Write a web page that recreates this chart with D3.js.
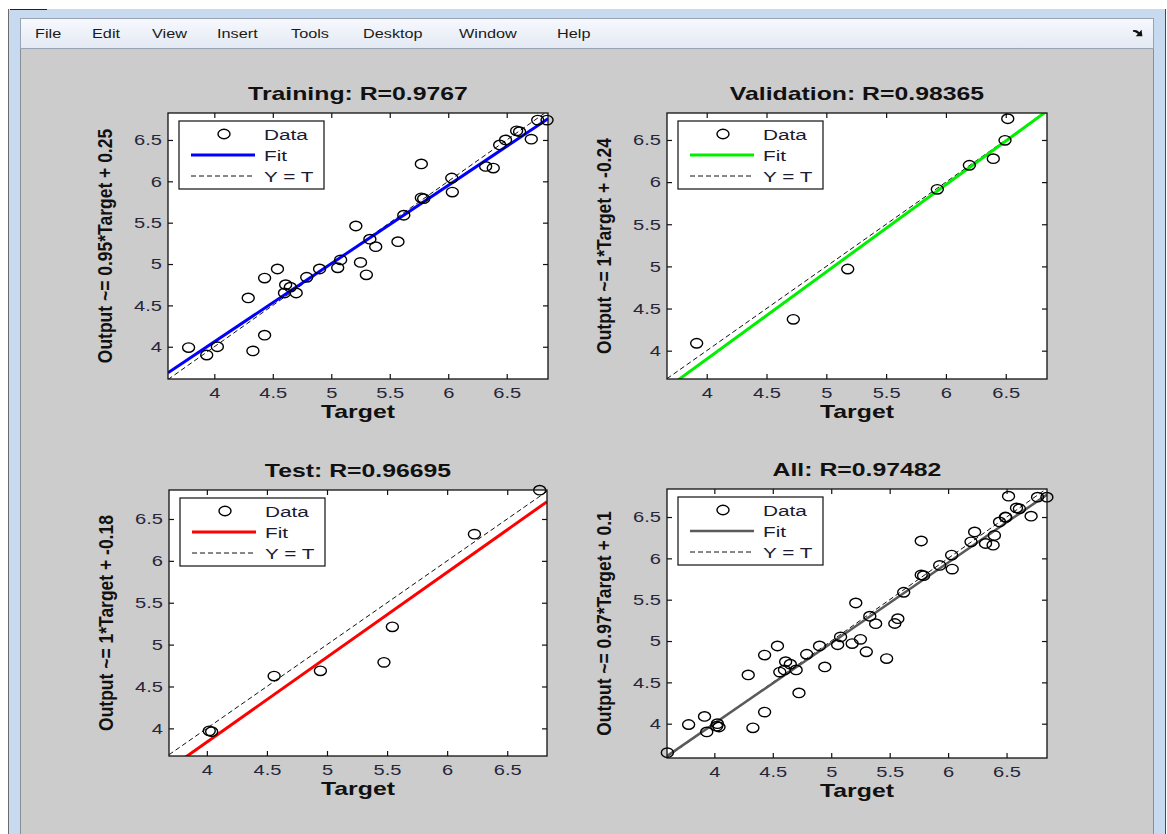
<!DOCTYPE html>
<html>
<head>
<meta charset="utf-8">
<script src="https://cdn.jsdelivr.net/npm/d3@7/dist/d3.min.js"></script>
<style>
html, body { margin: 0; padding: 0; background: #fff; }
svg { display: block; font-family: "Liberation Sans", Arial, sans-serif; }
</style>
</head>
<body>
<svg id="fig" width="1167" height="834"></svg>
<script>
// ---- data ----
const trainTarget = [3.598, 3.78, 3.935, 4.026, 4.33, 4.29, 4.43, 4.43, 4.54, 4.61, 4.60, 4.65, 4.70, 4.79, 4.90, 5.055, 5.08, 5.21, 5.25, 5.30, 5.33, 5.38, 5.57, 5.62, 5.77, 5.77, 5.79, 6.03, 6.035, 6.32, 6.385, 6.44, 6.49, 6.585, 6.61, 6.71, 6.765, 6.845];
const trainOutput = [3.65, 3.99, 3.90, 4.00, 3.95, 4.59, 4.14, 4.83, 4.94, 4.75, 4.65, 4.72, 4.65, 4.84, 4.94, 4.955, 5.05, 5.46, 5.02, 4.87, 5.30, 5.21, 5.27, 5.59, 6.21, 5.80, 5.79, 6.04, 5.87, 6.18, 6.16, 6.44, 6.50, 6.61, 6.60, 6.51, 6.74, 6.74];
const valTarget = [3.916, 4.724, 5.179, 5.928, 6.196, 6.396, 6.494, 6.517];
const valOutput = [4.088, 4.372, 4.969, 5.915, 6.20, 6.278, 6.496, 6.752];
const testTarget = [4.02, 4.04, 4.56, 4.945, 5.474, 5.544, 6.227, 6.77];
const testOutput = [3.97, 3.96, 4.624, 4.687, 4.788, 5.212, 6.319, 6.844];
const allTarget = trainTarget.concat(valTarget, testTarget);
const allOutput = trainOutput.concat(valOutput, testOutput);

const panelTitles = ["Training: R=0.9767", "Validation: R=0.98365", "Test: R=0.96695", "All: R=0.97482"];
const fitLabels = ["Output ~= 0.95*Target + 0.25", "Output ~= 1*Target + -0.24", "Output ~= 1*Target + -0.18", "Output ~= 0.97*Target + 0.1"];
const fitSlope = [0.945, 1.035, 1.014, 0.973];
const fitIntercept = [0.28, -0.24, -0.22, 0.11];
const xLimits = [[3.604, 6.853], [3.668, 6.845], [3.685, 6.831], [3.595, 6.846]];
const yLimits = [[3.61, 6.826], [3.664, 6.82], [3.67, 6.846], [3.585, 6.839]];
const tickValues = [4, 4.5, 5, 5.5, 6, 6.5];
const tickLabels = ["4", "4.5", "5", "5.5", "6", "6.5"];
const legendLabels = ["Data", "Fit", "Y = T"];
const xLabel = "Target";
const menuItems = ["File", "Edit", "View", "Insert", "Tools", "Desktop", "Window", "Help"];

const series = [
    {t: trainTarget, y: trainOutput},
    {t: valTarget, y: valOutput},
    {t: testTarget, y: testOutput},
    {t: allTarget, y: allOutput},
];

// ---- layout / style ----
const fitColors = ["#0000ff", "#00f000", "#ff0000", "#5a5a5a"];
const fitWidths = [3, 3, 3, 2.5];
const boxes = [
    {x: 168, y: 113, w: 380, h: 266},
    {x: 667, y: 113, w: 380, h: 266},
    {x: 169, y: 490, w: 378, h: 266},
    {x: 667, y: 489, w: 380, h: 269},
];
const SX = 1.34; // screenshot is stretched horizontally
const menuX = [35, 92, 152, 217, 291, 363, 459, 557];

function stretch(sel, k = SX) {
    sel.each(function () {
        const l = this.getComputedTextLength();
        this.setAttribute("textLength", l * k);
        this.setAttribute("lengthAdjust", "spacingAndGlyphs");
    });
}

const svg = d3.select("#fig");
const defs = svg.append("defs");

// window frame + menu bar
const grad = defs.append("linearGradient").attr("id", "menuGrad")
    .attr("x1", 0).attr("y1", 0).attr("x2", 0).attr("y2", 1);
grad.append("stop").attr("offset", 0).attr("stop-color", "#f7f9fd");
grad.append("stop").attr("offset", 1).attr("stop-color", "#e3e9f3");

svg.append("rect").attr("x", 8).attr("y", 9).attr("width", 1158).attr("height", 825)
    .attr("fill", "#c7daf0");
svg.append("line").attr("x1", 8.5).attr("x2", 8.5).attr("y1", 9).attr("y2", 834)
    .attr("stroke", "#6b6b6b");
svg.append("line").attr("x1", 1165.5).attr("x2", 1165.5).attr("y1", 9).attr("y2", 834)
    .attr("stroke", "#4a4a4a");
svg.append("line").attr("x1", 10).attr("x2", 47).attr("y1", 9.5).attr("y2", 9.5)
    .attr("stroke", "#222");
svg.append("rect").attr("x", 20.5).attr("y", 18.5).attr("width", 1133).attr("height", 30)
    .attr("fill", "url(#menuGrad)").attr("stroke", "#98a3b3");
svg.append("rect").attr("x", 21).attr("y", 49).attr("width", 1132).attr("height", 785)
    .attr("fill", "#cccccc");
svg.append("line").attr("x1", 20.5).attr("x2", 20.5).attr("y1", 49).attr("y2", 834)
    .attr("stroke", "#8a8f96");
svg.append("line").attr("x1", 1153.5).attr("x2", 1153.5).attr("y1", 49).attr("y2", 834)
    .attr("stroke", "#8a8f96");

svg.append("g").selectAll("text").data(menuItems).join("text")
    .attr("x", (d, i) => menuX[i]).attr("y", 38)
    .attr("font-size", 12.5).attr("fill", "#1a1a1a")
    .text(d => d)
    .call(stretch, 1.3);
svg.append("path")
    .attr("d", "M1133,31 Q1138,30 1140,35 M1137.5,35.5 L1141.5,35.5 L1141,31.5 Z")
    .attr("fill", "#111").attr("stroke", "#111").attr("stroke-width", 1.6);

// panels
series.forEach((s, i) => {
    const b = boxes[i];
    const x = d3.scaleLinear().domain(xLimits[i]).range([b.x, b.x + b.w]);
    const y = d3.scaleLinear().domain(yLimits[i]).range([b.y + b.h, b.y]);
    const g = svg.append("g");

    g.append("rect").attr("x", b.x).attr("y", b.y).attr("width", b.w).attr("height", b.h)
        .attr("fill", "#fff");

    const clipId = "clip" + i;
    defs.append("clipPath").attr("id", clipId).append("rect")
        .attr("x", b.x).attr("y", b.y).attr("width", b.w).attr("height", b.h);

    // axes: ticks on all four sides, pointing inward
    const fmt = d => tickLabels[tickValues.indexOf(d)];
    const axes = [
        [d3.axisBottom(x).tickPadding(8), `translate(0,${b.y + b.h})`, true],
        [d3.axisLeft(y).tickPadding(6), `translate(${b.x},0)`, true],
        [d3.axisTop(x), `translate(0,${b.y})`, false],
        [d3.axisRight(y), `translate(${b.x + b.w},0)`, false],
    ];
    for (const [ax, tr, labels] of axes) {
        ax.tickValues(tickValues).tickSizeInner(-5).tickSizeOuter(0)
            .tickFormat(labels ? fmt : () => "");
        const a = g.append("g").attr("transform", tr).call(ax);
        a.select(".domain").remove();
        a.selectAll(".tick line").attr("stroke", "#111").attr("stroke-width", 1.2);
        a.selectAll(".tick text").attr("font-size", 15).attr("fill", "#26263a")
            .attr("font-family", "Liberation Sans, Arial, sans-serif");
        if (labels) a.selectAll(".tick text").call(stretch);
    }

    // Y = T and fit lines
    const xd = xLimits[i];
    const lc = g.append("g").attr("clip-path", `url(#${clipId})`);
    lc.append("line")
        .attr("x1", x(xd[0])).attr("y1", y(xd[0]))
        .attr("x2", x(xd[1])).attr("y2", y(xd[1]))
        .attr("stroke", "#111").attr("stroke-width", 1).attr("stroke-dasharray", "5,3");
    lc.append("line")
        .attr("x1", x(xd[0])).attr("y1", y(fitSlope[i] * xd[0] + fitIntercept[i]))
        .attr("x2", x(xd[1])).attr("y2", y(fitSlope[i] * xd[1] + fitIntercept[i]))
        .attr("stroke", fitColors[i]).attr("stroke-width", fitWidths[i]);

    // data circles (like MATLAB, a marker whose centre is outside the limits is not drawn)
    const pts = s.t.map((t, k) => [t, s.y[k]])
        .filter(d => d[0] >= xLimits[i][0] && d[0] <= xLimits[i][1]
            && d[1] >= yLimits[i][0] && d[1] <= yLimits[i][1]);
    g.append("g").selectAll("ellipse").data(pts).join("ellipse")
        .attr("cx", d => x(d[0])).attr("cy", d => y(d[1]))
        .attr("rx", 6).attr("ry", 4.7)
        .attr("fill", "none").attr("stroke", "#000").attr("stroke-width", 1.4);

    // frame
    g.append("rect").attr("x", b.x).attr("y", b.y).attr("width", b.w).attr("height", b.h)
        .attr("fill", "none").attr("stroke", "#111").attr("stroke-width", 1.3);

    // legend
    const lx = b.x + 11, ly = b.y + 8;
    const lg = g.append("g");
    lg.append("rect").attr("x", lx).attr("y", ly).attr("width", 145).attr("height", 68)
        .attr("fill", "#fff").attr("stroke", "#222").attr("stroke-width", 1.3);
    lg.append("ellipse").attr("cx", lx + 45).attr("cy", ly + 13).attr("rx", 6).attr("ry", 4.7)
        .attr("fill", "none").attr("stroke", "#000").attr("stroke-width", 1.4);
    lg.append("line").attr("x1", lx + 12).attr("x2", lx + 76).attr("y1", ly + 34).attr("y2", ly + 34)
        .attr("stroke", fitColors[i]).attr("stroke-width", fitWidths[i]);
    lg.append("line").attr("x1", lx + 12).attr("x2", lx + 76).attr("y1", ly + 55).attr("y2", ly + 55)
        .attr("stroke", "#111").attr("stroke-width", 1).attr("stroke-dasharray", "5,3");
    lg.selectAll("text").data(legendLabels).join("text")
        .attr("x", lx + 85).attr("y", (d, k) => ly + 18.5 + k * 21)
        .attr("font-size", 15.5).attr("fill", "#1a1a33")
        .text(d => d)
        .call(stretch);

    // title and labels
    g.append("text").attr("x", b.x + b.w / 2).attr("y", b.y - 13.5)
        .attr("text-anchor", "middle").attr("font-size", 18.5).attr("font-weight", "bold")
        .attr("fill", "#111").text(panelTitles[i]).call(stretch);
    g.append("text").attr("x", b.x + b.w / 2).attr("y", b.y + b.h + 39)
        .attr("text-anchor", "middle").attr("font-size", 18.5).attr("font-weight", "bold")
        .attr("fill", "#111").text(xLabel).call(stretch);
    g.append("text")
        .attr("transform", `translate(${b.x - 56},${b.y + b.h / 2}) rotate(-90) scale(1,1.12)`)
        .attr("text-anchor", "middle").attr("font-size", 17.5).attr("font-weight", "bold")
        .attr("fill", "#111").text(fitLabels[i]);
});
</script>
</body>
</html>
